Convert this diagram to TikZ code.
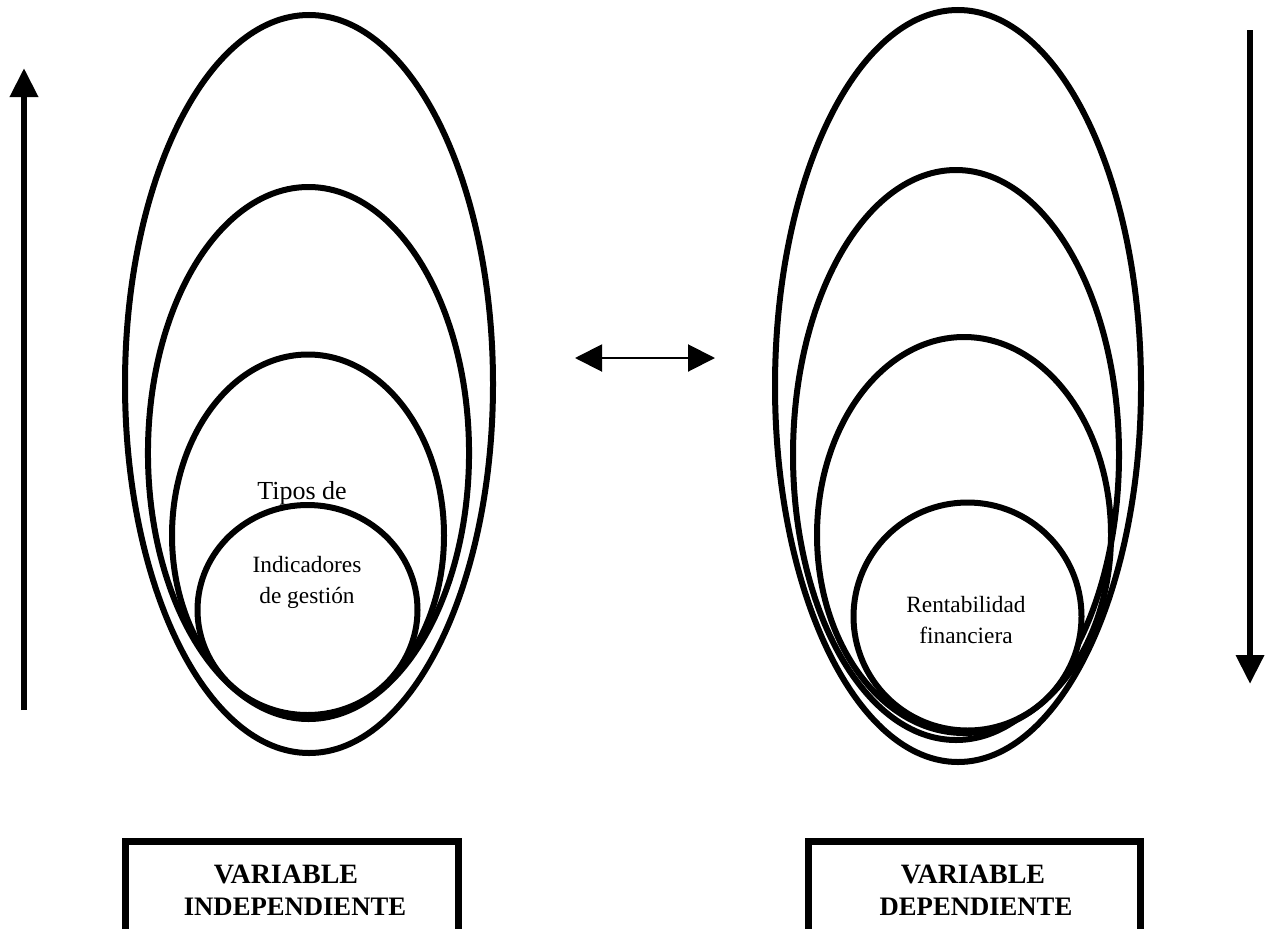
\documentclass[tikz,border=0pt]{standalone}
\usepackage{fontspec}
\setmainfont{Liberation Serif}
\usetikzlibrary{arrows.meta}
\begin{document}
\begin{tikzpicture}[x=0.75pt,y=-0.75pt,
  ring/.style={line width=4.5pt},
  lbl/.style={font=\fontsize{17.5}{23}\selectfont, inner sep=0pt, anchor=base},
  biglbl/.style={font=\fontsize{19.5}{23}\selectfont, inner sep=0pt, anchor=base},
  boxlbl/.style={font=\fontsize{20}{24}\selectfont\bfseries, inner sep=0pt, anchor=base},
  boxtitle/.style={font=\fontsize{21}{24}\selectfont\bfseries, inner sep=0pt, anchor=base},
  boxframe/.style={line width=5.25pt},
  bigarrow/.style={line width=4.9pt, -{Triangle[length=21.75pt,width=20.25pt]}},
  twoway/.style={line width=1.5pt, {Triangle[length=20.25pt,width=20.25pt]}-{Triangle[length=20.25pt,width=20.25pt]}}]
\useasboundingbox (0,0) rectangle (1269,928);
\clip (0,0) rectangle (1269,928);
\fill[white] (0,0) rectangle (1269,928);

% left group
\draw[ring] (309,384) ellipse [x radius=138pt, y radius=276.75pt];
\draw[ring] (308.5,453) ellipse [x radius=120.4pt, y radius=199.5pt];
\draw[ring] (308,535.5) ellipse [x radius=102pt, y radius=135.75pt];
\node[biglbl] (tipos) at (302,499) {Tipos de};
\draw[ring, fill=white] (307.5,610) ellipse [x radius=82.5pt, y radius=78.75pt];
\node[lbl] (ind1) at (307,572) {Indicadores};
\node[lbl] (ind2) at (307,603) {de gestión};

% right group
\draw[ring] (958,386) ellipse [x radius=137.25pt, y radius=282pt];
\draw[ring] (956,455) ellipse [x radius=122.25pt, y radius=213.75pt];
\draw[ring] (964,535) ellipse [x radius=110.25pt, y radius=148.5pt];
\draw[ring, fill=white] (967.5,616.5) ellipse [x radius=85.5pt, y radius=85.5pt];
\node[lbl] (ren1) at (966,612) {Rentabilidad};
\node[lbl] (ren2) at (966,643) {financiera};

% arrows
\coordinate (upS) at (24,710);
\coordinate (upE) at (24,68);
\draw[bigarrow] (upS) -- (upE);
\coordinate (dnS) at (1250,30);
\coordinate (dnE) at (1250,684);
\draw[bigarrow] (dnS) -- (dnE);
\coordinate (twL) at (575,358);
\coordinate (twR) at (715,358);
\draw[twoway] (twL) -- (twR);

% boxes
\draw[boxframe] (125,841) rectangle (458,935);
\node[boxtitle] (vi1) at (286,883) {VARIABLE};
\node[boxlbl] (vi2) at (295,915) {INDEPENDIENTE};
\draw[boxframe] (808,841) rectangle (1140,935);
\node[boxtitle] (vd1) at (973,883) {VARIABLE};
\node[boxlbl] (vd2) at (976,915) {DEPENDIENTE};
\end{tikzpicture}
\end{document}
